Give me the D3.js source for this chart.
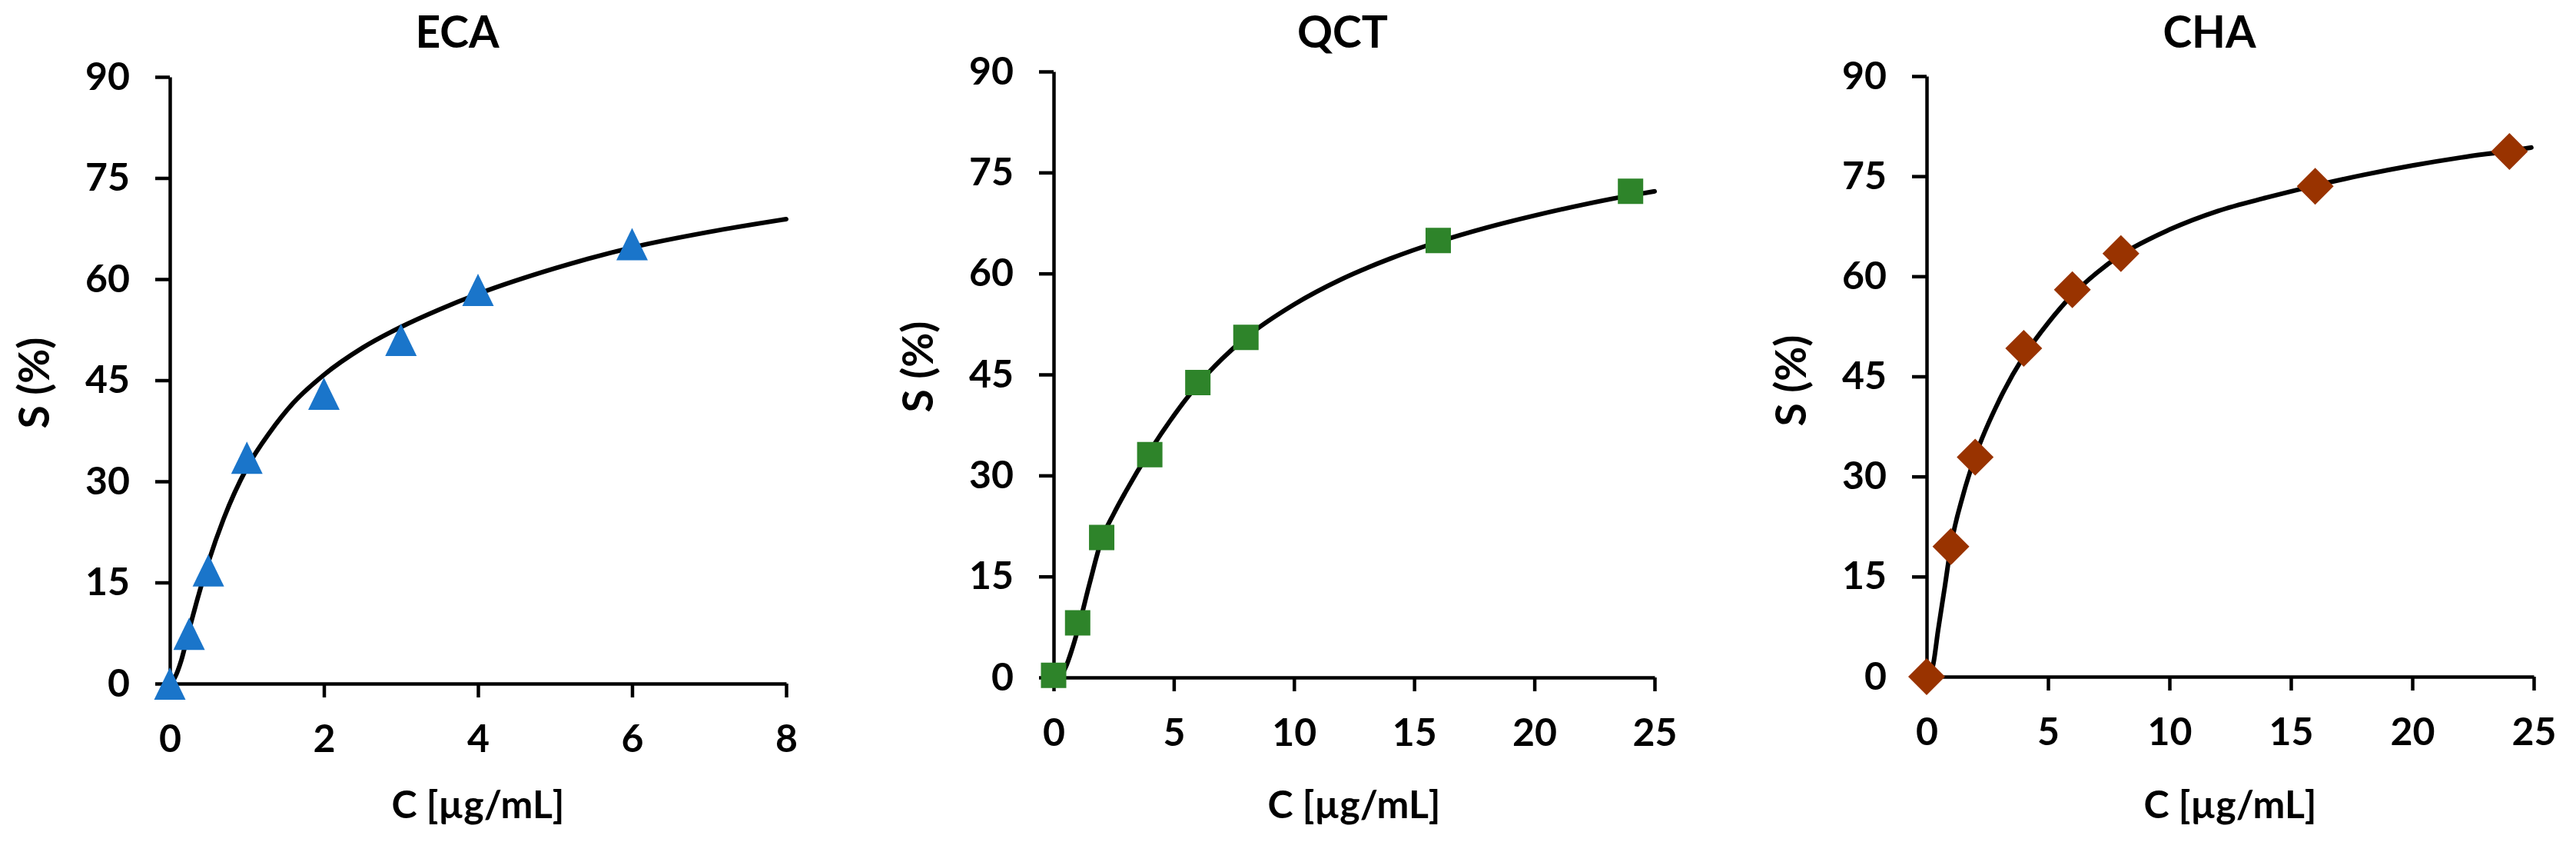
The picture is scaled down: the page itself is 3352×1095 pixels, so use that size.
<!DOCTYPE html>
<html>
<head>
<meta charset="utf-8">
<script src="https://cdn.jsdelivr.net/npm/d3@7"></script>
<style>
  body { margin: 0; background: #fff; }
  text { font-family: Lato, "Open Sans", sans-serif; font-weight: 700; fill: #000; }
</style>
</head>
<body>
<div id="chart"></div>
<script>
'use strict';

// measured points (C in µg/mL, S in %)
const ecaConc = [0, 0.25, 0.5, 1, 2, 3, 4, 6];
const ecaScav = [0, 7.4, 16.8, 33.5, 43.0, 51.0, 58.4, 65.2];
const qctConc = [0, 1, 2, 4, 6, 8, 16, 24];
const qctScav = [0.3, 8.1, 20.8, 33.1, 43.8, 50.5, 64.9, 72.2];
const chaConc = [0, 1, 2, 4, 6, 8, 16, 24];
const chaScav = [0, 19.5, 32.9, 49.2, 58.0, 63.4, 73.5, 78.7];

// fitted curves
const ecaFitConc = [0, 0.06, 0.15, 0.25, 0.35, 0.5, 0.7, 1, 1.3, 1.6, 2, 2.5, 3, 3.5, 4, 5, 6, 7, 8];
const ecaFitScav = [0, 0.8, 3.5, 8.0, 12.2, 18.0, 24.5, 32.0, 37.3, 41.6, 45.8, 49.8, 52.9, 55.5, 57.8, 61.6, 64.7, 67.0, 68.9];
const qctFitConc = [0, 0.3, 0.5, 0.75, 1, 1.5, 2, 2.5, 3, 4, 5, 6, 7, 8, 10, 12, 14, 16, 18, 20, 22, 24, 25];
const qctFitScav = [0, 0.3, 1.5, 4.0, 7.0, 14.0, 20.5, 24.3, 27.6, 33.6, 38.9, 43.5, 47.3, 50.5, 55.4, 59.2, 62.2, 64.7, 66.8, 68.6, 70.2, 71.6, 72.2];
const chaFitConc = [0, 0.15, 0.28, 0.47, 0.75, 1, 1.5, 2, 3, 4, 5, 6, 7, 8, 10, 12, 14, 16, 18, 20, 22, 24, 24.9];
const chaFitScav = [0, 0.3, 2.0, 6.9, 13.5, 19.6, 27.2, 33.0, 41.5, 48.0, 53.0, 57.2, 60.5, 63.2, 67.0, 69.8, 71.8, 73.6, 75.2, 76.6, 77.8, 78.8, 79.3];

// tick labels
const yTicks = [0, 15, 30, 45, 60, 75, 90];
const ecaXTicks = [0, 2, 4, 6, 8];
const qctXTicks = [0, 5, 10, 15, 20, 25];
const chaXTicks = [0, 5, 10, 15, 20, 25];

const titles = ['ECA', 'QCT', 'CHA'];
const xTitle = 'C [µg/mL]';
const yTitle = 'S (%)';

(function() {
    var W = 3352, H = 1095;

    // plot box of every panel: left, right, top, bottom (pixels)
    var panels = [
        { title: titles[0], box: [221, 1023, 100, 889], xMax: 8, xTicks: ecaXTicks,
          conc: ecaConc, scav: ecaScav, fitConc: ecaFitConc, fitScav: ecaFitScav,
          marker: 'triangle', color: '#1a75ca', titleShift: -27, yLabelY: 498 },
        { title: titles[1], box: [1371, 2153, 93, 881], xMax: 25, xTicks: qctXTicks,
          conc: qctConc, scav: qctScav, fitConc: qctFitConc, fitScav: qctFitScav,
          marker: 'square', color: '#2e842a', titleShift: -15, yLabelY: 477 },
        { title: titles[2], box: [2507, 3297, 99, 880], xMax: 25, xTicks: chaXTicks,
          conc: chaConc, scav: chaScav, fitConc: chaFitConc, fitScav: chaFitScav,
          marker: 'diamond', color: '#993300', titleShift: -27, yLabelY: 495 }
    ];

    var svg = d3.select('#chart').append('svg')
        .attr('width', W)
        .attr('height', H);

    // marker shapes, centred on their bounding box
    function markerPath(type, cx, cy) {
        var p = d3.path();
        if (type === 'triangle') {
            p.moveTo(cx, cy - 21); p.lineTo(cx + 20.5, cy + 21); p.lineTo(cx - 20.5, cy + 21);
        } else if (type === 'square') {
            p.rect(cx - 16.5, cy - 16.5, 33, 33);
        } else {
            p.moveTo(cx, cy - 24); p.lineTo(cx + 24, cy); p.lineTo(cx, cy + 24); p.lineTo(cx - 24, cy);
        }
        p.closePath();
        return p.toString();
    }

    panels.forEach(function(pn) {
        var x = d3.scaleLinear().domain([0, pn.xMax]).range([pn.box[0], pn.box[1]]);
        var y = d3.scaleLinear().domain([0, 90]).range([pn.box[3], pn.box[2]]);
        var g = svg.append('g');

        // axes
        var yAxis = g.append('g')
            .attr('transform', 'translate(' + pn.box[0] + ',0)')
            .call(d3.axisLeft(y).tickValues(yTicks).tickSize(19).tickSizeOuter(0).tickPadding(33));
        var xAxis = g.append('g')
            .attr('transform', 'translate(0,' + pn.box[3] + ')')
            .call(d3.axisBottom(x).tickValues(pn.xTicks).tickSize(18).tickSizeOuter(0).tickPadding(35));

        [xAxis, yAxis].forEach(function(a) {
            a.selectAll('path, line').attr('stroke', '#000').attr('stroke-width', 4.5);
            a.selectAll('text').style('font-size', '50px').attr('fill', '#000');
        });

        // fitted curve
        var fit = pn.fitConc.map(function(c, i) { return [c, pn.fitScav[i]]; });
        g.append('path')
            .datum(fit)
            .attr('fill', 'none')
            .attr('stroke', '#000')
            .attr('stroke-width', 6)
            .attr('stroke-linecap', 'round')
            .attr('d', d3.line()
                .x(function(d) { return x(d[0]); })
                .y(function(d) { return y(d[1]); })
                .curve(d3.curveMonotoneX));

        // measured points
        g.selectAll('path.mark')
            .data(pn.conc)
            .enter()
            .append('path')
            .attr('class', 'mark')
            .attr('fill', pn.color)
            .attr('d', function(c, i) { return markerPath(pn.marker, x(c), y(pn.scav[i])); });

        var cx = (pn.box[0] + pn.box[1]) / 2;

        // titles
        g.append('text')
            .attr('x', cx + pn.titleShift)
            .attr('y', 62)
            .attr('text-anchor', 'middle')
            .style('font-size', '57px')
            .text(pn.title);

        g.append('text')
            .attr('x', cx)
            .attr('y', 1064)
            .attr('text-anchor', 'middle')
            .style('font-size', '50px')
            .text(xTitle);

        g.append('text')
            .attr('transform', 'translate(' + (pn.box[0] - 157) + ',' + pn.yLabelY + ') rotate(-90)')
            .attr('text-anchor', 'middle')
            .style('font-size', '55px')
            .text(yTitle);
    });
})();
</script>
</body>
</html>
